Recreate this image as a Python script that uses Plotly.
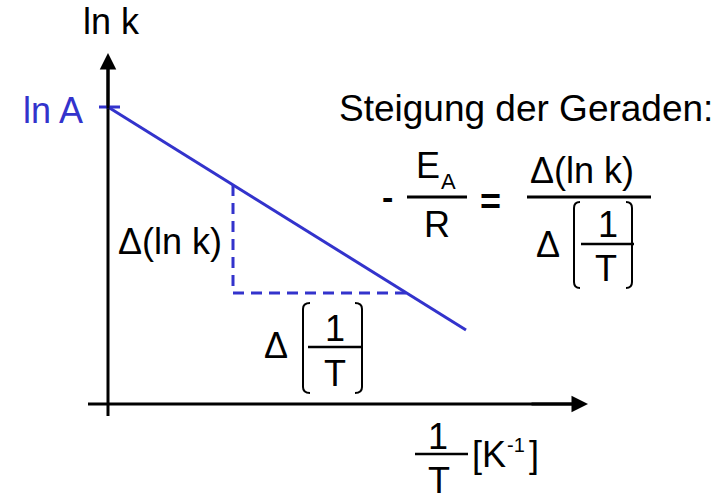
import plotly.graph_objects as go

# Arrhenius plot (schematic): ln k against 1/T, origin where the axes cross
inv_T = [0.0, 3.58]          # 1/T, axis units
ln_k = [2.97, 0.74]          # ln k, axis units
ln_A = 2.97                  # intercept on the ln k axis

# slope triangle under the line
tri_inv_T = [1.25, 1.25, 3.04]
tri_ln_k = [2.19, 1.11, 1.11]

BLUE = "#3333CC"
BLACK = "#000000"
FONT = "Liberation Sans, Arial, sans-serif"

# canvas: 100 px per axis unit, axes cross at pixel (108, 404)
W, H = 727, 494
OX, OY, S = 108, 404, 100.0


def X(px):
    return (px - OX) / S


def Y(py):
    return (OY - py) / S


fig = go.Figure()

fig.add_trace(go.Scatter(x=inv_T, y=ln_k, mode="lines",
                         line=dict(color=BLUE, width=3), hoverinfo="skip"))
fig.add_trace(go.Scatter(x=tri_inv_T, y=tri_ln_k, mode="lines",
                         line=dict(color=BLUE, width=3, dash="11px,7px"),
                         hoverinfo="skip"))

shapes = []


def seg(x0, y0, x1, y1, color=BLACK, width=3):
    shapes.append(dict(type="line", xref="x", yref="y",
                       x0=X(x0), y0=Y(y0), x1=X(x1), y1=Y(y1),
                       line=dict(color=color, width=width)))


def bracket(xv, ytop, ybot, curl, width=2):
    # tall round-cornered bracket: vertical stroke with short curled ends
    r = 6
    xe = xv + curl
    d = (f"M{X(xe)},{Y(ytop)} Q{X(xv)},{Y(ytop)} {X(xv)},{Y(ytop + r)} "
         f"L{X(xv)},{Y(ybot - r)} Q{X(xv)},{Y(ybot)} {X(xe)},{Y(ybot)}")
    shapes.append(dict(type="path", xref="x", yref="y", path=d,
                       line=dict(color=BLACK, width=width)))


# axes (arrowheads added as annotations)
seg(108, 416, 108, 68)
seg(88, 404, 574, 404)
# ln A tick
shapes.append(dict(type="line", xref="x", yref="y", x0=X(99), x1=X(120),
                   y0=ln_A, y1=ln_A, line=dict(color=BLUE, width=3)))

# fraction bars
seg(407, 197, 467, 197)
seg(527, 197, 651, 197)
seg(581, 244, 634, 244, width=2.5)
seg(308, 347, 362, 347, width=2.5)
seg(415, 454, 468, 454, width=2.5)

# brackets around 1/T
bracket(574, 202, 288, 6)
bracket(632, 202, 288, -6)
bracket(303, 303, 393, 7)
bracket(362, 303, 393, -7)

ann = []


def txt(s, px, py, size=36, color=BLACK, xanchor="center", bold=False):
    ann.append(dict(text=f"<b>{s}</b>" if bold else s,
                    x=X(px), y=Y(py), xref="x", yref="y",
                    showarrow=False, xanchor=xanchor, yanchor="middle",
                    font=dict(family=FONT, size=size, color=color)))


def arrow(tx, ty, fx, fy):
    ann.append(dict(text="", x=X(tx), y=Y(ty), ax=X(fx), ay=Y(fy),
                    xref="x", yref="y", axref="x", ayref="y",
                    showarrow=True, arrowhead=2, arrowsize=1.1,
                    arrowwidth=3, arrowcolor=BLACK, standoff=0))


arrow(108, 53, 108, 110)
arrow(588, 404, 530, 404)

txt("ln k", 111.5, 21.5)
txt("ln A", 52.5, 110, color=BLUE)
txt("Steigung der Geraden:", 526, 108.5, size=37)

txt("-", 387, 197, size=34, bold=True)
txt("E", 428, 165.5)
txt("A", 448.5, 181, size=22)
txt("R", 437, 224)
txt("=", 490, 201, size=36, bold=True)
txt("\u0394(ln k)", 581.5, 170)
txt("\u0394", 548, 244)
txt("1", 607.5, 224.5)
txt("T", 606, 268)

txt("\u0394(ln k)", 169.5, 241)
txt("\u0394", 276, 345)
txt("1", 335, 328.5)
txt("T", 335, 373.5)

txt("1", 437.5, 436.5)
txt("T", 439, 480)
txt("[K", 470, 454, xanchor="left")
txt("-1", 505, 445, size=20, xanchor="left")
txt("]", 527, 454, xanchor="left")

fig.update_layout(
    width=W, height=H,
    margin=dict(l=0, r=0, t=0, b=0),
    paper_bgcolor="white", plot_bgcolor="white",
    showlegend=False,
    xaxis=dict(range=[X(0), X(W)], visible=False, fixedrange=True),
    yaxis=dict(range=[Y(H), Y(0)], visible=False, fixedrange=True),
    shapes=shapes, annotations=ann,
)

fig.write_html("out.html")
